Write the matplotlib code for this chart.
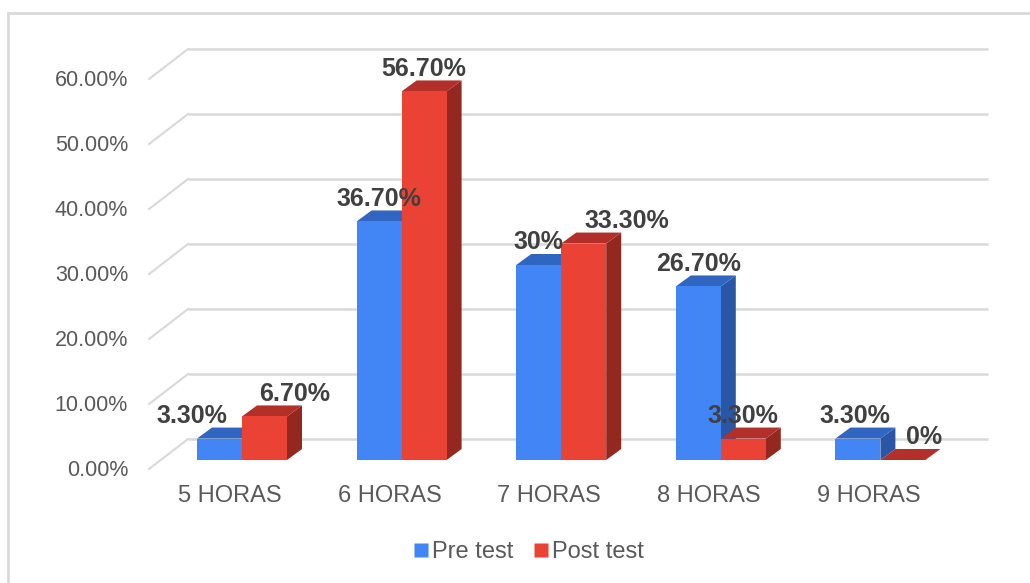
import matplotlib.pyplot as plt
from matplotlib.patches import Polygon, Rectangle
from matplotlib.lines import Line2D
import numpy as np

plt.rcParams['font.family'] = ['Liberation Sans', 'DejaVu Sans']

categories = ['5 HORAS', '6 HORAS', '7 HORAS', '8 HORAS', '9 HORAS']
series_names = ['Pre test', 'Post test']
pre_test = [3.3, 36.7, 30.0, 26.7, 3.3]
post_test = [6.7, 56.7, 33.3, 3.3, 0.0]
value_labels = [['3.30%', '36.70%', '30%', '26.70%', '3.30%'],
                ['6.70%', '56.70%', '33.30%', '3.30%', '0%']]
y_ticks = [0, 10, 20, 30, 40, 50, 60]

# front / top / side shades for each series
colors = [('#4285F4', '#3165C2', '#2A56A6'),
          ('#EA4335', '#B3302A', '#932820')]

W, H = 1030, 583
fig = plt.figure(figsize=(W / 100, H / 100), dpi=100)

# axes placed so one category = 159.6 px and 1% = 6.5 px
xlim = (-1.5, 4.85)
ylim = (-16, 70)
px_x, px_y = 159.6, 6.5
left_px = 242 + xlim[0] * px_x
bottom_px = (H - 460) + ylim[0] * px_y
ax = fig.add_axes([left_px / W, bottom_px / H,
                   (xlim[1] - xlim[0]) * px_x / W,
                   (ylim[1] - ylim[0]) * px_y / H])
ax.set_xlim(*xlim)
ax.set_ylim(*ylim)
ax.axis('off')

# 3D depth offsets (data units)
wall_dx, wall_dy = 39 / px_x, 30 / px_y      # side wall depth
bar_dx, bar_dy = 15 / px_x, 11 / px_y        # bar depth
wall_x0, wall_x1 = -0.338, 4.674
wall_base = 3.23

grid_col = '#D9D9D9'
for t in y_ticks:
    yb = t + wall_base
    ax.plot([wall_x0, wall_x1], [yb, yb], color=grid_col, lw=1.8, zorder=1,
            solid_capstyle='butt')
    ax.plot([wall_x0 - wall_dx, wall_x0], [yb - wall_dy, yb], color=grid_col,
            lw=1.5, zorder=1)
    ax.text(-0.714, yb - wall_dy - 0.2, f'{t:.2f}%', ha='right', va='center',
            fontsize=15.5, color='#595959')

# horizontal shift of value labels (px) so neighbours don't collide
label_shift = [[-28, 0, 0, 0, -3], [30, 0, 43, 0, 21]]

bar_w = 45 / px_x
x = np.arange(len(categories))
for s, vals in enumerate([pre_test, post_test]):
    front, top, side = colors[s]
    x0s = x - bar_w + s * bar_w
    for x0, v, lab, sh in zip(x0s, vals, value_labels[s], label_shift[s]):
        x1 = x0 + bar_w
        ax.add_patch(Polygon([(x1, 0), (x1, v), (x1 + bar_dx, v + bar_dy),
                              (x1 + bar_dx, bar_dy)], closed=True,
                             facecolor=side, edgecolor='none', zorder=3 + s))
        ax.add_patch(Polygon([(x0, v), (x1, v), (x1 + bar_dx, v + bar_dy),
                              (x0 + bar_dx, v + bar_dy)], closed=True,
                             facecolor=top, edgecolor='none', zorder=3 + s))
        ax.text(x0 + bar_w / 2 + sh / px_x, v + bar_dy + 0.7, lab,
                ha='center', va='baseline', fontsize=18, fontweight='bold',
                color='#404040', zorder=10)
    ax.bar(x0s, vals, width=bar_w, align='edge', color=front, zorder=3 + s)

for i, c in enumerate(categories):
    ax.text(i - 0.075, -5.6, c, ha='center', va='center', fontsize=17,
            color='#595959')

# outer frame
fig.add_artist(Rectangle((8 / W, -0.1), 1.2, 1 - 13 / H + 0.1,
                         transform=fig.transFigure, fill=False,
                         edgecolor='#D9D9D9', lw=2))

handles = [Line2D([], [], marker='s', ls='none', markersize=9.5,
                  markerfacecolor=colors[i][0], markeredgecolor='none')
           for i in range(2)]
fig.legend(handles, series_names, loc='center', ncol=2, frameon=False,
           bbox_to_anchor=(529 / W, 1 - 552 / H), fontsize=17,
           handlelength=0.55, handletextpad=0.2, columnspacing=0.9,
           labelcolor='#595959')

fig.savefig('out.png', dpi=100)
